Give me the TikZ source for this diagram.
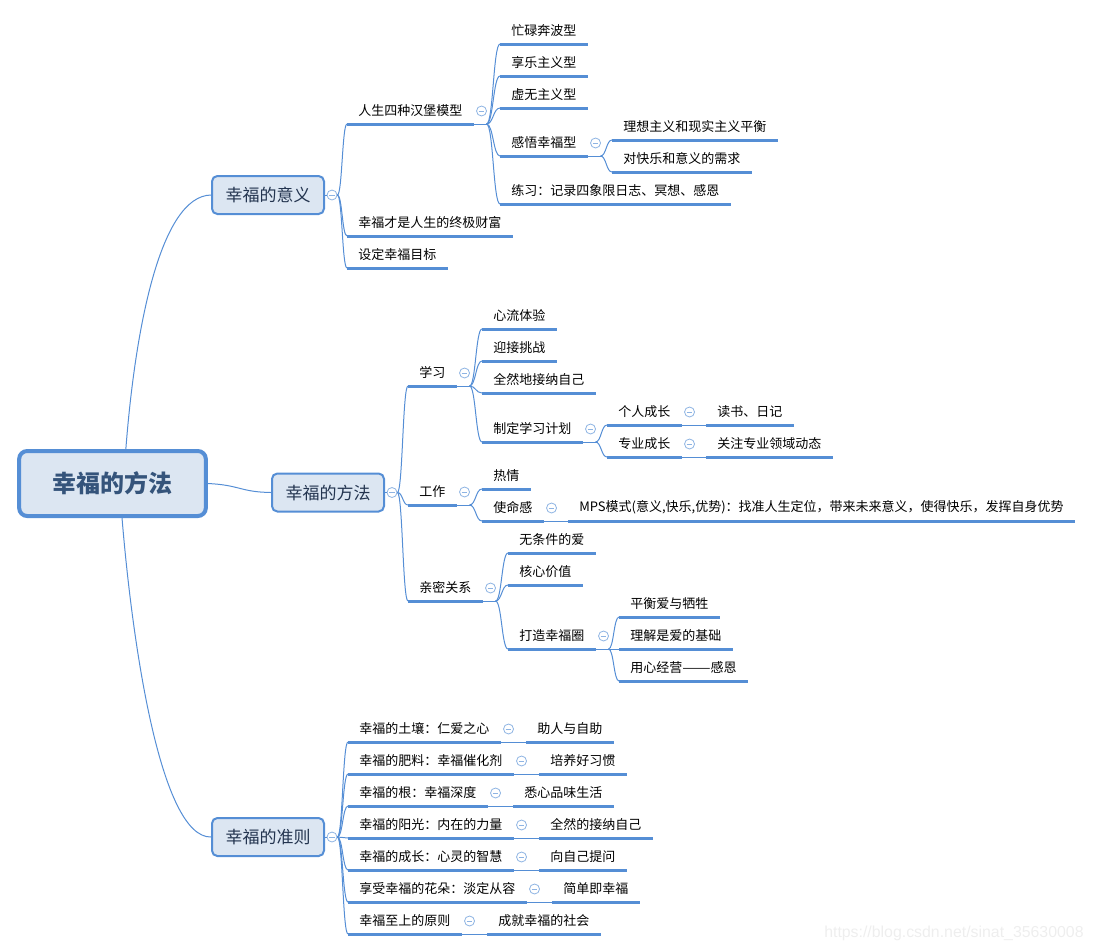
\documentclass[tikz,border=0pt]{standalone}
\usepackage{graphicx}
\usepackage{fontspec}
\newfontfamily\cjk{Noto Sans CJK SC}
\newfontfamily\wmfont{Liberation Sans}
\usetikzlibrary{calc}
\definecolor{lc}{HTML}{558ED5}
\definecolor{mkc}{HTML}{8EB4E3}
\definecolor{boxfill}{HTML}{DCE6F2}
\definecolor{roottext}{HTML}{35547B}
\definecolor{brtext}{HTML}{23344F}
\definecolor{wmc}{HTML}{EEEEEE}
\tikzset{
 leaf/.style={anchor=south west, inner xsep=8.25pt, inner ysep=0pt, minimum height=19.5pt,
   font=\cjk\fontsize{9.75pt}{11pt}\selectfont, text=black},
 uline/.style={draw=lc, line width=2.25pt},
 conn/.style={draw=lc, line width=0.75pt},
 marker/.style={circle, draw=mkc, fill=white, line width=0.6pt, minimum size=7.5pt, inner sep=0pt,
   path picture={\draw[mkc, line width=0.6pt] ([xshift=-2.2pt]path picture bounding box.center) -- ([xshift=2.2pt]path picture bounding box.center);}},
 rootbox/.style={rounded corners=6pt, draw=lc, line width=3pt, fill=boxfill, minimum width=140pt,
   minimum height=48.75pt, font=\cjk\bfseries\fontsize{18pt}{20pt}\selectfont, text=roottext},
 branch/.style={rounded corners=4pt, draw=lc, line width=1.5pt, fill=boxfill, minimum width=84pt,
   minimum height=28.5pt, font=\cjk\fontsize{12.75pt}{14pt}\selectfont, text=brtext},
 wmark/.style={anchor=west, inner sep=0pt, font=\wmfont\fontsize{11.9pt}{13pt}\selectfont, text=wmc},
}
\newcommand\leaf[4]{\node[leaf] (#1) at (#2,#3) {#4};
  \draw[uline] (#1.south west) -- (#1.south east);}
\newcommand\fold[1]{\node[marker] (#1-m) at ($(#1.south east)+(8,-13)$) {};
  \coordinate (#1-j) at ($(#1.south east)+(13,0)$);
  \draw[conn] (#1.south east) -- (#1-j);}
\newcommand\single[2]{\node[marker] (#1-m) at ($(#1.south east)+(8,-13)$) {};
  \draw[conn] (#1.south east) -- (#2.south west);}
\newcommand\link[2]{\draw[conn] let \p1=(#1), \p2=(#2) in
  (\p1) .. controls ({(\x1+\x2)/2},\y1) and ({(\x1+\x2)/2},\y2) .. (\p2);}
\begin{document}
\begin{tikzpicture}[x=0.75pt,y=-0.75pt]
\useasboundingbox (0,0) rectangle (1093,951);

% root and branches
\node[rootbox] (root) at (112.5,483.5) {幸福的方法};
\node[branch] (A) at (268,195) {幸福的意义};
\node[branch] (B) at (328,492.5) {幸福的方法};
\node[branch] (C) at (268,837) {幸福的准则};
\coordinate (rt) at ($(root.north west)!0.57!(root.north east)$);
\coordinate (rb) at ($(root.south west)!0.55!(root.south east)$);
\draw[conn] (rt) .. controls (135,330) and (160,196) .. (A.west);
\draw[conn] (root.east) .. controls (240,485) and (240,492) .. (B.west);
\draw[conn] (rb) .. controls (132,640) and (160,838) .. (C.west);
\node[marker] (A-m) at ($(A.east)+(7,0)$) {};
\node[marker] (B-m) at ($(B.east)+(7,0)$) {};
\node[marker] (C-m) at ($(C.east)+(7,0)$) {};
\draw[conn] (A.east) -- (A-m.west);
\draw[conn] (B.east) -- (B-m.west);
\draw[conn] (C.east) -- (C-m.west);

% tree 1
\leaf{a1}{347}{124}{人生四种汉堡模型}
\leaf{a11}{500}{44}{忙碌奔波型}
\leaf{a12}{500}{76}{享乐主义型}
\leaf{a13}{500}{108}{虚无主义型}
\leaf{a14}{500}{156}{感悟幸福型}
\leaf{a141}{612}{140}{理想主义和现实主义平衡}
\leaf{a142}{612}{172}{对快乐和意义的需求}
\leaf{a15}{500}{204}{练习：记录四象限日志、冥想、感恩}
\leaf{a2}{347}{236}{幸福才是人生的终极财富}
\leaf{a3}{347}{268}{设定幸福目标}
\fold{a1}
\fold{a14}
\link{A-m.east}{a1.south west}
\link{A-m.east}{a2.south west}
\link{A-m.east}{a3.south west}
\link{a1-j}{a11.south west}
\link{a1-j}{a12.south west}
\link{a1-j}{a13.south west}
\link{a1-j}{a14.south west}
\link{a1-j}{a15.south west}
\link{a14-j}{a141.south west}
\link{a14-j}{a142.south west}

% tree 2
\leaf{b1}{408}{386}{学习}
\leaf{b11}{482}{329}{心流体验}
\leaf{b12}{482}{361}{迎接挑战}
\leaf{b13}{482}{393}{全然地接纳自己}
\leaf{b14}{482}{442}{制定学习计划}
\leaf{b141}{607}{425}{个人成长}
\leaf{b1411}{706}{425}{读书、日记}
\leaf{b142}{607}{457}{专业成长}
\leaf{b1421}{706}{457}{关注专业领域动态}
\leaf{b2}{408}{505}{工作}
\leaf{b21}{482}{489}{热情}
\leaf{b22}{482}{521}{使命感}
\leaf{b221}{568}{521}{MPS模式(意义,快乐,优势)：找准人生定位，带来未来意义，使得快乐，发挥自身优势}
\leaf{b3}{408}{601}{亲密关系}
\leaf{b31}{508}{553}{无条件的爱}
\leaf{b32}{508}{585}{核心价值}
\leaf{b33}{508}{649}{打造幸福圈}
\leaf{b331}{619}{617}{平衡爱与牺牲}
\leaf{b332}{619}{649}{理解是爱的基础}
\leaf{b333}{619}{681}{用心经营\scalebox{1.3}[1]{——}感恩}
\fold{b1}
\fold{b14}
\fold{b2}
\fold{b3}
\fold{b33}
\single{b141}{b1411}
\single{b142}{b1421}
\single{b22}{b221}
\link{B-m.east}{b1.south west}
\link{B-m.east}{b2.south west}
\link{B-m.east}{b3.south west}
\link{b1-j}{b11.south west}
\link{b1-j}{b12.south west}
\link{b1-j}{b13.south west}
\link{b1-j}{b14.south west}
\link{b14-j}{b141.south west}
\link{b14-j}{b142.south west}
\link{b2-j}{b21.south west}
\link{b2-j}{b22.south west}
\link{b3-j}{b31.south west}
\link{b3-j}{b32.south west}
\link{b3-j}{b33.south west}
\link{b33-j}{b331.south west}
\link{b33-j}{b332.south west}
\link{b33-j}{b333.south west}

% tree 3
\leaf{c1}{348}{742}{幸福的土壤：仁爱之心}
\leaf{c1x}{526}{742}{助人与自助}
\leaf{c2}{348}{774}{幸福的肥料：幸福催化剂}
\leaf{c2x}{539}{774}{培养好习惯}
\leaf{c3}{348}{806}{幸福的根：幸福深度}
\leaf{c3x}{513}{806}{悉心品味生活}
\leaf{c4}{348}{838}{幸福的阳光：内在的力量}
\leaf{c4x}{539}{838}{全然的接纳自己}
\leaf{c5}{348}{870}{幸福的成长：心灵的智慧}
\leaf{c5x}{539}{870}{向自己提问}
\leaf{c6}{348}{902}{享受幸福的花朵：淡定从容}
\leaf{c6x}{552}{902}{简单即幸福}
\leaf{c7}{348}{934}{幸福至上的原则}
\leaf{c7x}{487}{934}{成就幸福的社会}
\single{c1}{c1x}
\single{c2}{c2x}
\single{c3}{c3x}
\single{c4}{c4x}
\single{c5}{c5x}
\single{c6}{c6x}
\single{c7}{c7x}
\link{C-m.east}{c1.south west}
\link{C-m.east}{c2.south west}
\link{C-m.east}{c3.south west}
\link{C-m.east}{c4.south west}
\link{C-m.east}{c5.south west}
\link{C-m.east}{c6.south west}
\link{C-m.east}{c7.south west}

\node[wmark] (wm) at (824,933) {https://blog.csdn.net/sinat\_35630008};
\end{tikzpicture}
\end{document}
